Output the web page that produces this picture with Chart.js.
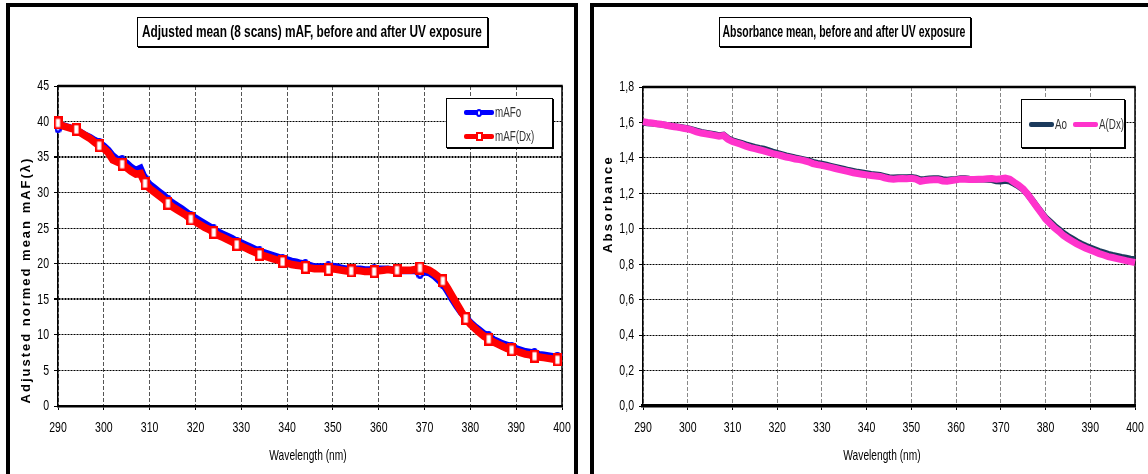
<!DOCTYPE html>
<html>
<head>
<meta charset="utf-8">
<script src="https://cdn.jsdelivr.net/npm/chart.js@4.4.0/dist/chart.umd.min.js"></script>
<style>
  body { margin: 0; width: 1148px; height: 474px; overflow: hidden; position: relative; background: #fff;
         font-family: 'Liberation Sans', Arial, sans-serif; }
  .panel { position: absolute; border: 4px solid #000; box-sizing: border-box; background: #fff; }
  #panelL { left: 6px; top: 3px; width: 572px; height: 500px; }
  #panelR { left: 590px; top: 3px; width: 580px; height: 500px; }
  canvas { position: absolute; top: 0; }
  .ttl { position: absolute; border: 1px solid #000; box-shadow: 1px 1px 0 #000; background: #fff; box-sizing: border-box;
         font-weight: bold; font-size: 16px; line-height: 28px; white-space: nowrap; color: #000; }
  .ttl span { position: absolute; left: 50%; top: 0; transform-origin: 0 50%; }
  .legend { position: absolute; border: 1px solid #000; box-shadow: 1px 1px 0 #000; background: #fff; box-sizing: border-box;
            font-size: 14px; color: #333; }
  .legend .swatch { position: absolute; height: 5px; border-radius: 2px; }
  .legend .mk { position: absolute; background: #fff; border: 2px solid; box-sizing: border-box; }
  .legend .lbl { position: absolute; line-height: 16px; white-space: nowrap; transform: scaleX(0.7); transform-origin: 0 50%; }
</style>
</head>
<body>
<div class="panel" id="panelL"></div>
<div class="panel" id="panelR"></div>
<canvas id="chartL" width="580" height="474" style="left:0"></canvas>
<canvas id="chartR" width="562" height="474" style="left:586px"></canvas>
<div class="ttl" data-fit="340" style="left:137px;top:17px;width:351px;height:30px"><span>Adjusted mean (8 scans) mAF, before and after UV exposure</span></div>
<div class="ttl" data-fit="243" style="left:719px;top:17px;width:252px;height:30px"><span>Absorbance mean, before and after UV exposure</span></div>
<div class="legend" id="legendL" style="left:446px;top:98px;width:107px;height:50px"></div>
<div class="legend" id="legendR" style="left:1021px;top:99px;width:104px;height:49px"></div>
<script>
const wavelength = [
  290, 291, 292, 293, 294, 295, 296, 297, 298, 299,
  300, 301, 302, 303, 304, 305, 306, 307, 308, 309,
  310, 311, 312, 313, 314, 315, 316, 317, 318, 319,
  320, 321, 322, 323, 324, 325, 326, 327, 328, 329,
  330, 331, 332, 333, 334, 335, 336, 337, 338, 339,
  340, 341, 342, 343, 344, 345, 346, 347, 348, 349,
  350, 351, 352, 353, 354, 355, 356, 357, 358, 359,
  360, 361, 362, 363, 364, 365, 366, 367, 368, 369,
  370, 371, 372, 373, 374, 375, 376, 377, 378, 379,
  380, 381, 382, 383, 384, 385, 386, 387, 388, 389,
  390, 391, 392, 393, 394, 395, 396, 397, 398, 399,
  400
];

// mean fluorescence before exposure
const mAFo = [
  39.0, 39.5, 39.3, 39.1, 38.7, 38.5, 38.1, 37.8, 37.4, 37.1,
  36.6, 36.0, 35.2, 34.7, 34.6, 34.2, 33.6, 33.2, 33.5, 32.0,
  31.2, 30.7, 30.2, 29.7, 29.1, 28.6, 28.2, 27.8, 27.3, 26.8,
  26.5, 26.1, 25.7, 25.3, 24.9, 24.5, 24.2, 23.9, 23.6, 23.2,
  23.0, 22.7, 22.4, 22.1, 21.8, 21.6, 21.4, 21.2, 21.0, 20.7,
  20.6, 20.4, 20.3, 20.1, 20.0, 19.8, 19.6, 19.6, 19.6, 19.7,
  19.7, 19.6, 19.4, 19.3, 19.4, 19.3, 19.3, 19.2, 19.2, 19.3,
  19.3, 19.3, 19.3, 19.2, 19.2, 19.0, 19.0, 19.0, 19.0, 18.5,
  18.8, 18.7, 18.3, 17.7, 17.1, 16.1, 15.0, 14.0, 13.1, 12.5,
  11.8, 11.2, 10.7, 10.2, 9.9, 9.4, 9.1, 8.8, 8.6, 8.4,
  8.1, 7.9, 7.7, 7.6, 7.5, 7.3, 7.2, 7.1, 7.0, 7.0,
  6.9
];

// mean fluorescence after exposure
const mAFDx = [
  39.8, 39.4, 39.2, 39.0, 38.9, 38.4, 38.0, 37.6, 37.1, 36.6,
  36.2, 35.6, 34.6, 34.3, 34.0, 33.5, 33.0, 32.6, 32.7, 31.3,
  30.6, 30.1, 29.6, 29.1, 28.5, 28.0, 27.6, 27.2, 26.8, 26.3,
  25.9, 25.5, 25.1, 24.8, 24.4, 24.0, 23.7, 23.4, 23.1, 22.7,
  22.5, 22.2, 21.9, 21.6, 21.3, 21.1, 20.9, 20.7, 20.5, 20.3,
  20.1, 19.9, 19.8, 19.7, 19.5, 19.4, 19.3, 19.3, 19.3, 19.2,
  19.3, 19.2, 19.1, 19.0, 19.0, 19.1, 19.0, 18.9, 18.9, 18.9,
  19.0, 19.1, 19.2, 19.1, 19.1, 19.1, 19.1, 19.1, 19.2, 19.4,
  19.3, 19.1, 18.7, 18.2, 17.6, 16.6, 15.5, 14.4, 13.3, 12.3,
  11.5, 10.9, 10.3, 9.8, 9.4, 9.0, 8.7, 8.4, 8.1, 7.9,
  7.7, 7.5, 7.3, 7.2, 7.0, 6.9, 6.8, 6.7, 6.6, 6.5,
  6.5
];

// absorbance before exposure
const absAo = [
  1.600, 1.597, 1.595, 1.592, 1.589, 1.586, 1.582, 1.578, 1.574, 1.570,
  1.566, 1.560, 1.552, 1.545, 1.541, 1.537, 1.532, 1.527, 1.530, 1.510,
  1.498, 1.490, 1.483, 1.475, 1.468, 1.461, 1.455, 1.450, 1.442, 1.434,
  1.427, 1.420, 1.413, 1.407, 1.401, 1.396, 1.390, 1.384, 1.376, 1.370,
  1.366, 1.360, 1.354, 1.348, 1.342, 1.336, 1.330, 1.325, 1.320, 1.316,
  1.312, 1.308, 1.305, 1.302, 1.296, 1.290, 1.288, 1.289, 1.290, 1.289,
  1.291, 1.287, 1.278, 1.280, 1.283, 1.284, 1.284, 1.278, 1.275, 1.278,
  1.280, 1.283, 1.283, 1.281, 1.280, 1.280, 1.279, 1.278, 1.276, 1.270,
  1.268, 1.272, 1.268, 1.255, 1.240, 1.222, 1.194, 1.162, 1.128, 1.095,
  1.062, 1.040, 1.016, 0.996, 0.975, 0.958, 0.943, 0.928, 0.915, 0.903,
  0.893, 0.883, 0.873, 0.865, 0.857, 0.851, 0.846, 0.840, 0.835, 0.830,
  0.827
];

// absorbance after exposure
const absADx = [
  1.605, 1.600, 1.597, 1.593, 1.590, 1.585, 1.580, 1.576, 1.572, 1.567,
  1.563, 1.556, 1.546, 1.540, 1.536, 1.532, 1.527, 1.522, 1.526, 1.505,
  1.492, 1.484, 1.476, 1.466, 1.458, 1.452, 1.446, 1.440, 1.432, 1.424,
  1.418, 1.412, 1.405, 1.400, 1.394, 1.390, 1.385, 1.378, 1.368, 1.362,
  1.358, 1.352, 1.346, 1.340, 1.334, 1.328, 1.322, 1.316, 1.312, 1.308,
  1.304, 1.300, 1.298, 1.295, 1.288, 1.282, 1.280, 1.282, 1.284, 1.282,
  1.285, 1.280, 1.268, 1.272, 1.275, 1.276, 1.277, 1.270, 1.268, 1.272,
  1.276, 1.280, 1.280, 1.278, 1.278, 1.279, 1.280, 1.282, 1.283, 1.280,
  1.282, 1.286, 1.280, 1.262, 1.245, 1.225, 1.195, 1.160, 1.125, 1.090,
  1.055, 1.030, 1.005, 0.985, 0.962, 0.945, 0.930, 0.915, 0.902, 0.890,
  0.880, 0.870, 0.860, 0.852, 0.843, 0.838, 0.832, 0.826, 0.820, 0.815,
  0.810
];

const namesL = ['mAFo', 'mAF(Dx)'];
const namesR = ['Ao', 'A(Dx)'];
const colorsL = ['#0000ff', '#ff0000'];
const colorsR = ['#1b3a5c', '#ff33cc'];

const SQUEEZE = 0.68;   // condensed look of the axis text

function pairs(ys) {
  return wavelength.map((x, i) => ({ x: x, y: ys[i] }));
}

// hollow marker drawn once and reused as a point style
function makeMarker(w, h, color, round) {
  const c = document.createElement('canvas');
  c.width = w;
  c.height = h;
  const g = c.getContext('2d');
  g.fillStyle = '#fff';
  g.strokeStyle = color;
  g.lineWidth = 2.4;
  if (round) {
    g.beginPath();
    g.ellipse(w / 2, h / 2, w / 2 - 1.2, h / 2 - 1.2, 0, 0, Math.PI * 2);
    g.fill();
    g.stroke();
  } else {
    g.fillRect(1.2, 1.2, w - 2.4, h - 2.4);
    g.strokeRect(1.2, 1.2, w - 2.4, h - 2.4);
  }
  return c;
}

// marker on the first point, then every fifth one
const markerRadius = ctx => (ctx.dataIndex === 0 || ctx.dataIndex % 5 === 4) ? 5 : 0;

const plotFrame = {
  id: 'plotFrame',
  beforeDatasetsDraw(chart, args, opts) {
    const { ctx, chartArea: a } = chart;
    ctx.save();
    ctx.strokeStyle = '#000';
    ctx.lineWidth = opts.top;
    ctx.beginPath();
    ctx.moveTo(a.left, a.top);
    ctx.lineTo(a.right + opts.right / 2, a.top);
    ctx.stroke();
    ctx.lineWidth = opts.right;
    ctx.beginPath();
    ctx.moveTo(a.right, a.top);
    ctx.lineTo(a.right, a.bottom);
    ctx.stroke();
    ctx.restore();
  }
};

// tick labels and x title in a squeezed face, y title with wide letter spacing
const axisText = {
  id: 'axisText',
  afterDraw(chart, args, opts) {
    const { ctx, chartArea: a, scales: { x, y } } = chart;
    const squeezed = (text, px, py, align) => {
      ctx.save();
      ctx.translate(px, py);
      ctx.scale(SQUEEZE, 1);
      ctx.textAlign = align;
      ctx.fillText(text, 0, 0);
      ctx.restore();
    };
    ctx.save();
    ctx.fillStyle = '#000';
    ctx.textBaseline = 'middle';
    ctx.font = '15.5px "Liberation Sans", Arial, sans-serif';
    x.ticks.forEach(t => squeezed(t.label, x.getPixelForValue(t.value), a.bottom + 22, 'center'));
    y.ticks.forEach(t => squeezed(t.label, a.left - opts.yGap, y.getPixelForValue(t.value), 'right'));
    ctx.font = '15px "Liberation Sans", Arial, sans-serif';
    squeezed(opts.xTitle, (a.left + a.right) / 2 + opts.xShift, a.bottom + 50, 'center');

    ctx.translate(opts.yX, a.top + opts.yOffset);
    ctx.rotate(-Math.PI / 2);
    ctx.font = 'bold 13px "Liberation Sans", Arial, sans-serif';
    ctx.letterSpacing = opts.spacing;
    ctx.textAlign = 'center';
    ctx.fillText(opts.yTitle, 0, 0);
    ctx.restore();
  }
};

function xScale(gridColor, axisWidth) {
  return {
    type: 'linear',
    min: 290,
    max: 400,
    afterFit: s => { s.height = 68; },
    ticks: { stepSize: 10, display: false },
    grid: { color: gridColor, lineWidth: 1, tickLength: 4, tickColor: '#000' },
    border: { color: '#000', width: axisWidth, dash: [4, 2] }
  };
}

function yScale(max, step, width, fmt, thick) {
  return {
    min: 0,
    max: max,
    afterFit: s => { s.width = width; },
    ticks: { stepSize: step, display: false, callback: fmt },
    grid: {
      color: '#000',
      lineWidth: ctx => (thick.includes(ctx.tick && ctx.tick.value) ? 2 : 1),
      tickLength: 4,
      tickColor: '#000'
    },
    border: { color: '#000', width: 1.5, dash: [2, 1] }
  };
}

new Chart(document.getElementById('chartL'), {
  type: 'line',
  data: {
    datasets: [
      {
        label: namesL[1], data: pairs(mAFDx), order: 0, clip: false,
        borderColor: colorsL[1], borderWidth: 7.5, tension: 0,
        pointStyle: makeMarker(9, 13, colorsL[1], false), pointRadius: markerRadius
      },
      {
        label: namesL[0], data: pairs(mAFo), order: 1, clip: false,
        borderColor: colorsL[0], borderWidth: 6.5, tension: 0,
        pointStyle: makeMarker(7, 9, colorsL[0], true), pointRadius: markerRadius
      }
    ]
  },
  options: {
    responsive: false,
    animation: false,
    layout: { padding: { left: 0, right: 18, top: 86, bottom: 0 } },
    scales: {
      x: xScale('#555', 2.5),
      y: yScale(45, 5, 58, v => String(v), [15, 35])
    },
    plugins: {
      legend: { display: false },
      tooltip: { enabled: false },
      plotFrame: { top: 2.5, right: 1.5 },
      axisText: {
        yGap: 9, xTitle: 'Wavelength (nm)', xShift: -2,
        yTitle: 'Adjusted normed mean mAF(\u03bb)', yX: 26, yOffset: 194, spacing: '2px'
      }
    }
  },
  plugins: [plotFrame, axisText]
});

new Chart(document.getElementById('chartR'), {
  type: 'line',
  data: {
    datasets: [
      {
        label: namesR[1], data: pairs(absADx), order: 0, clip: false,
        borderColor: colorsR[1], borderWidth: 7, tension: 0, pointRadius: 0
      },
      {
        label: namesR[0], data: pairs(absAo), order: 1, clip: false,
        borderColor: colorsR[0], borderWidth: 6.5, tension: 0, pointRadius: 0
      }
    ]
  },
  options: {
    responsive: false,
    animation: false,
    layout: { padding: { left: 0, right: 13, top: 87, bottom: 0 } },
    scales: {
      x: xScale('#888', 3.5),
      y: yScale(1.8, 0.2, 57, v => v.toFixed(1).replace('.', ','), [])
    },
    plugins: {
      legend: { display: false },
      tooltip: { enabled: false },
      plotFrame: { top: 2.5, right: 1.5 },
      axisText: {
        yGap: 9, xTitle: 'Wavelength (nm)', xShift: -7,
        yTitle: 'Absorbance', yX: 22, yOffset: 117, spacing: '2.3px'
      }
    }
  },
  plugins: [plotFrame, axisText]
});

// squeeze each title so it fills its box
document.querySelectorAll('.ttl').forEach(box => {
  const span = box.querySelector('span');
  const target = Number(box.dataset.fit);
  const k = target / span.offsetWidth;
  span.style.transform = `translateX(${-target / 2 - 1}px) scaleX(${k})`;
});

// html legends
function addItem(box, color, label, lineX, lineW, y, marker) {
  const sw = document.createElement('div');
  sw.className = 'swatch';
  sw.style.cssText = `left:${lineX}px;top:${y - 3}px;width:${lineW}px;background:${color}`;
  box.appendChild(sw);
  if (marker) {
    const mk = document.createElement('div');
    mk.className = 'mk';
    const w = marker === 'circle' ? 6 : 7;
    const h = marker === 'circle' ? 8 : 9;
    mk.style.cssText = `left:${lineX + lineW / 2 - w / 2}px;top:${y - h / 2 - 0.5}px;width:${w}px;height:${h}px;border-color:${color};` +
      (marker === 'circle' ? 'border-radius:50%;' : '');
    box.appendChild(mk);
  }
  const t = document.createElement('div');
  t.className = 'lbl';
  t.style.cssText = `left:${lineX + lineW + 1}px;top:${y - 9}px`;
  t.textContent = label;
  box.appendChild(t);
}

const legL = document.getElementById('legendL');
addItem(legL, colorsL[0], namesL[0], 17, 30, 14, 'circle');
addItem(legL, colorsL[1], namesL[1], 17, 30, 38, 'square');

const legR = document.getElementById('legendR');
addItem(legR, colorsR[0], namesR[0], 7, 25, 25, null);
addItem(legR, colorsR[1], namesR[1], 51, 25, 25, null);
</script>
</body>
</html>
